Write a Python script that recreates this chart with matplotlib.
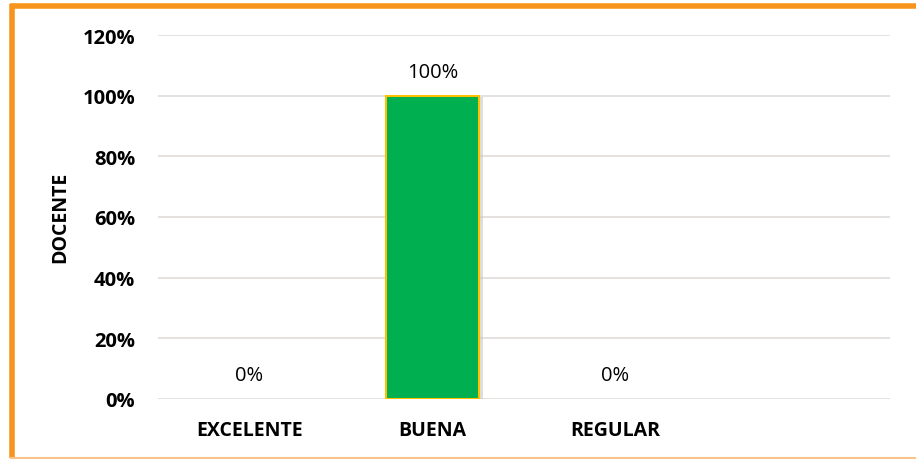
import matplotlib
matplotlib.use("Agg")
import matplotlib.pyplot as plt
from matplotlib.lines import Line2D
import matplotlib.patheffects as pe

categories = ["EXCELENTE", "BUENA", "REGULAR", ""]
values = [0.0, 1.0, 0.0, None]
yticks = [0, 0.2, 0.4, 0.6, 0.8, 1.0, 1.2]
ytick_labels = ["0%", "20%", "40%", "60%", "80%", "100%", "120%"]
axis_title = "DOCENTE"

plt.rcParams['font.family'] = ['Open Sans', 'DejaVu Sans']

fig = plt.figure(figsize=(9.16, 4.6), dpi=100)
W, H = 916, 460
ax = fig.add_axes([158 / W, 1 - 400 / H, (890 - 158) / W, (400 - 36) / H])

xs = list(range(len(categories)))
for x, v in zip(xs, values):
    if v is None:
        continue
    if v > 0:
        ax.bar(x, v, width=0.51, color="#00B050", edgecolor="#FFC000", linewidth=1.5, zorder=3,
               path_effects=[pe.SimplePatchShadow(offset=(3, -1), shadow_rgbFace="#C8C8C8", alpha=0.6), pe.Normal()])
    ax.annotate(f"{v*100:.0f}%", (x, v), xytext=(0, 10), textcoords="offset points",
                ha="center", va="bottom", fontsize=14.5, color="#000000")

ax.set_xlim(-0.5, len(categories) - 0.5)
ax.set_ylim(0, 1.2)
ax.set_yticks(yticks)
ax.set_yticklabels(ytick_labels, fontsize=14.5, fontweight="bold")
ax.set_xticks(xs)
ax.set_xticklabels(categories, fontsize=14, fontweight="bold")
ax.tick_params(axis="y", length=0, pad=16.5)
ax.tick_params(axis="x", length=0, pad=15)
ax.grid(axis="y", color="#E0DCD8", linewidth=1.2, zorder=0)
ax.set_axisbelow(True)
for s in ax.spines.values():
    s.set_visible(False)

fig.text(60.5 / W, 1 - 217 / H, axis_title, rotation=90, ha="center", va="center",
         fontsize=14, fontweight="bold")

# outer orange frame
fig.add_artist(Line2D([11.5 / W, 11.5 / W], [1 - 5 / H, 1 - 459 / H], color="#F7941D", linewidth=4,
                      solid_capstyle="butt", transform=fig.transFigure))
fig.add_artist(Line2D([9.5 / W, 1.0], [1 - 6.5 / H, 1 - 6.5 / H], color="#F7941D", linewidth=4,
                      solid_capstyle="butt", transform=fig.transFigure))
fig.add_artist(Line2D([9.5 / W, 1.0], [1 - 459 / H, 1 - 459 / H], color="#F8C48A", linewidth=1.5,
                      solid_capstyle="butt", transform=fig.transFigure))

fig.savefig("out.png", dpi=100)
